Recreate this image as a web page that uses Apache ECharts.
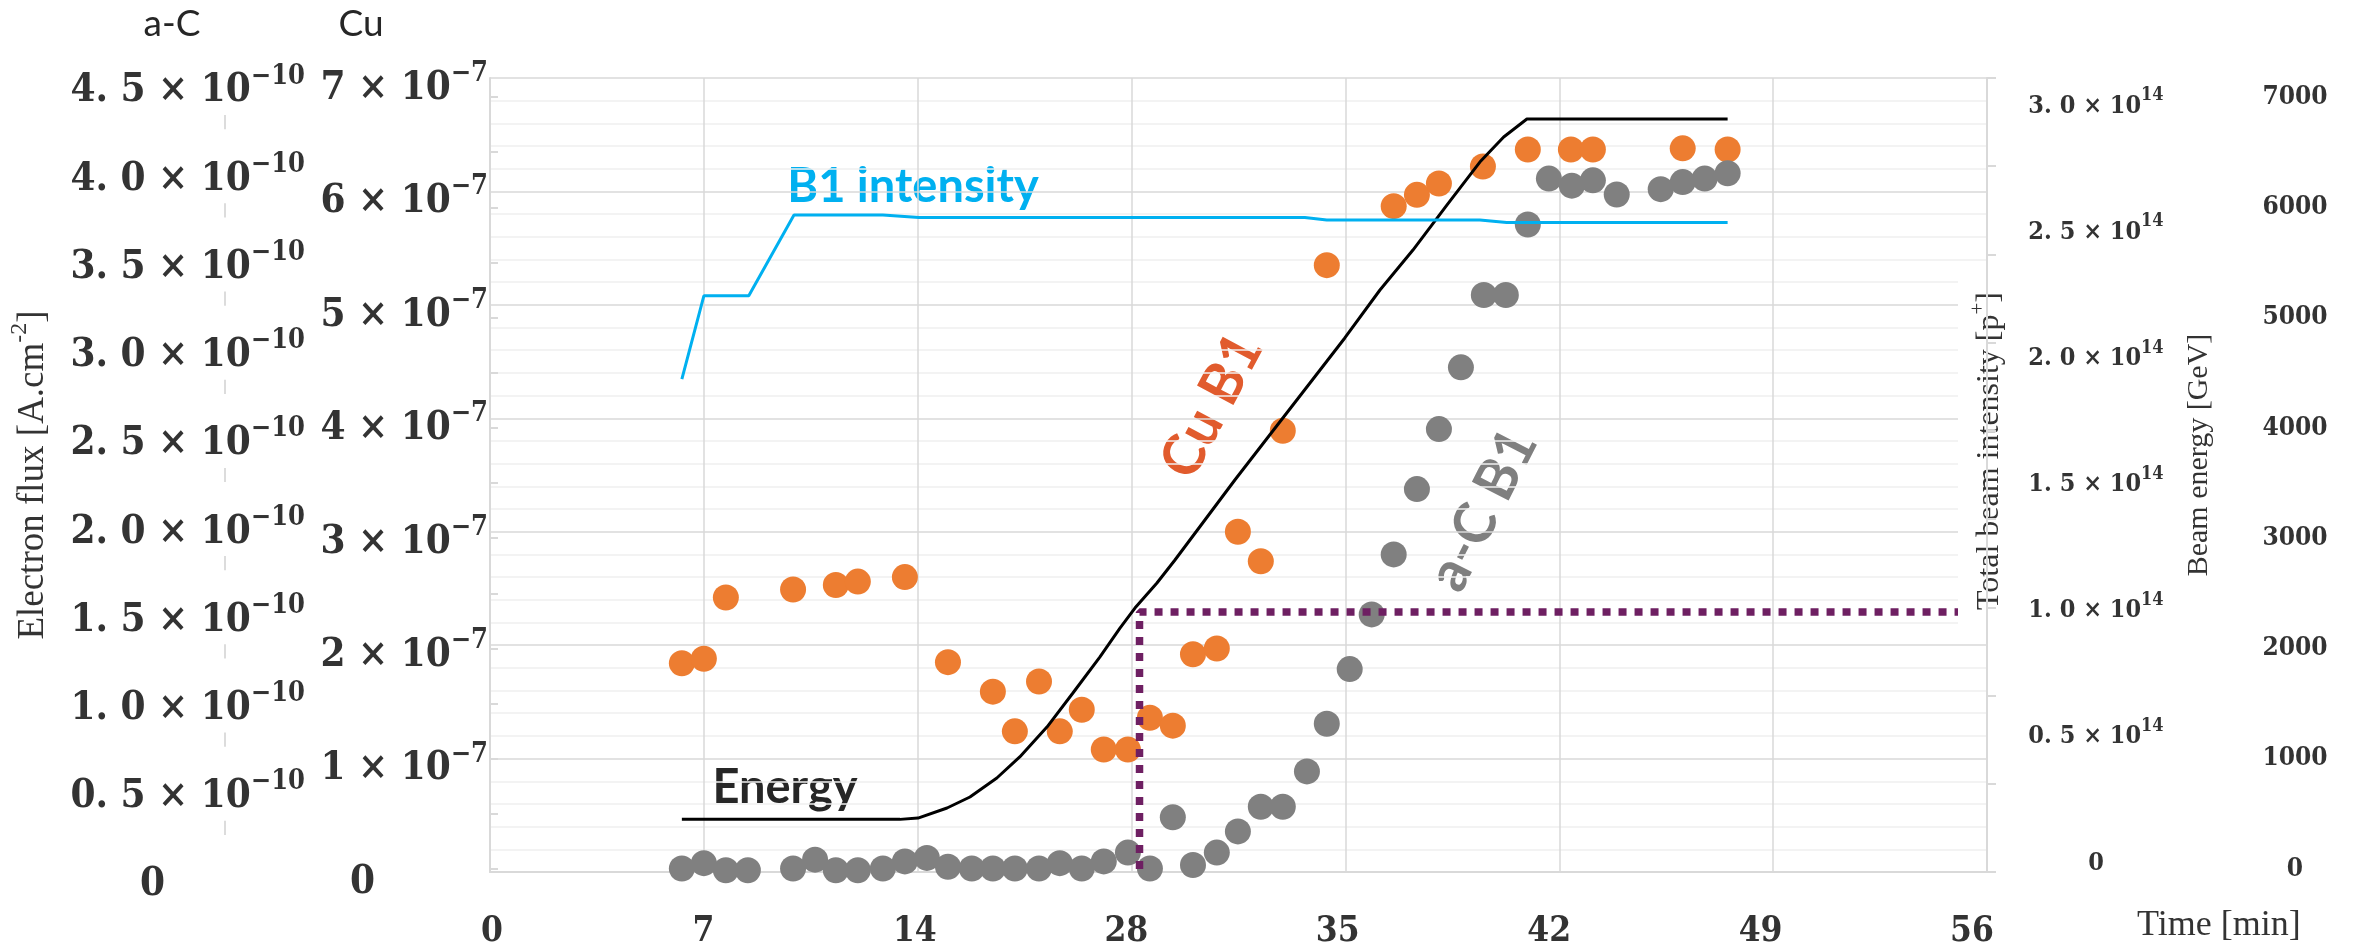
<!DOCTYPE html>
<html>
<head>
<meta charset="utf-8">
<title>Electron flux, beam intensity and energy vs time</title>
<script src="https://cdn.jsdelivr.net/npm/echarts@6.0.0/dist/echarts.min.js"></script>
<style>
  html, body { margin: 0; padding: 0; background: #ffffff; }
  #chart { width: 2358px; height: 949px; }
</style>
</head>
<body>
<div id="chart"></div>
<script>
// ---------------- tick labels ----------------
const xTickLabels = ['0', '7', '14', '28', '35', '42', '49', '56'];
const cuTickMantissas = ['0', '1', '2', '3', '4', '5', '6', '7'];
const cuTickExponent = '−7';
const acTickMantissas = ['0', '0. 5', '1. 0', '1. 5', '2. 0', '2. 5', '3. 0', '3. 5', '4. 0', '4. 5'];
const acTickExponent = '−10';
const intTickMantissas = ['0', '0. 5', '1. 0', '1. 5', '2. 0', '2. 5', '3. 0'];
const intTickExponent = '14';

// ---------------- series values ----------------
// Cu B1 electron flux (units of 1e-7 A.cm^-2)
const cuTime = [6.28, 7.00, 7.72, 9.92, 11.32, 12.04, 13.58, 14.99, 16.46, 17.18, 17.97, 18.65, 19.37, 20.09, 20.88, 21.60, 22.35, 23.01, 23.79, 24.48, 25.23, 25.95, 27.39, 29.58, 30.34, 31.06, 32.50, 33.97, 35.38, 36.10, 39.04, 40.51];
const cuFlux = [1.84, 1.88, 2.42, 2.49, 2.53, 2.56, 2.60, 1.85, 1.59, 1.24, 1.68, 1.24, 1.43, 1.08, 1.08, 1.36, 1.29, 1.92, 1.97, 3.00, 2.74, 3.89, 5.35, 5.87, 5.97, 6.07, 6.22, 6.37, 6.37, 6.37, 6.38, 6.37];

// a-C B1 electron flux (units of 1e-10 A.cm^-2)
const acTime = [6.28, 7.00, 7.72, 8.44, 9.92, 10.64, 11.32, 12.04, 12.86, 13.58,
                14.30, 14.99, 15.77, 16.46, 17.18, 17.97, 18.65, 19.37, 20.09, 20.88,
                21.60, 22.35, 23.01, 23.79, 24.48, 25.23, 25.95, 26.74, 27.39, 28.14,
                28.86, 29.58, 30.34, 31.06, 31.78, 32.53, 33.25, 33.97, 34.66, 35.41,
                36.10, 36.88, 38.32, 39.04, 39.76, 40.51];
const acFlux = [0.02, 0.05, 0.01, 0.01, 0.02, 0.07, 0.01, 0.01, 0.02, 0.06,
                0.08, 0.03, 0.02, 0.02, 0.02, 0.02, 0.05, 0.02, 0.06, 0.11,
                0.02, 0.31, 0.04, 0.11, 0.23, 0.37, 0.37, 0.57, 0.84, 1.15,
                1.46, 1.80, 2.17, 2.51, 2.86, 3.27, 3.27, 3.67, 3.93, 3.89,
                3.92, 3.84, 3.87, 3.91, 3.93, 3.96];

// Beam energy (GeV)
const energyTime = [6.28, 13.42, 14.01, 14.96, 15.71, 16.59, 17.34, 18.23, 19.08, 19.96, 20.62, 21.11, 21.83, 22.42, 24.38, 27.98, 29.13, 30.21, 31.32, 32.40, 33.18, 33.94, 40.51];
const energyGeV = [450, 450, 462, 553, 653, 825, 1016, 1287, 1596, 1922, 2185, 2366, 2593, 2802, 3527, 4815, 5250, 5612, 6020, 6410, 6637, 6800, 6800];

// B1 total beam intensity (units of 1e14 p+)
const intTime = [6.28, 7.00, 8.47, 9.95, 12.86, 14.04, 26.67, 27.39, 32.40, 33.28, 40.51];
const intValue = [1.91, 2.24, 2.24, 2.56, 2.56, 2.55, 2.55, 2.54, 2.54, 2.53, 2.53];

// Dotted marker (time, energy GeV)
const markerTime = [21.26, 21.26, 49];
const markerEnergy = [0, 2330, 2330];

// ---------------- helpers ----------------
const zip = (a, b) => a.map((v, i) => [v, b[i]]);
const SERIF_B = '"DejaVu Serif Condensed", "DejaVu Serif", serif';
const SERIF = '"Liberation Serif", "DejaVu Serif", serif';
const SANS = 'Lato, "Noto Sans", sans-serif';
const TXT = '#333333';
const AXIS_GRAY = '#D9D9D9';

function sciRich(base, sup, hLine, zeroPadRight) {
  return {
    h: { fontSize: 1, lineHeight: hLine },
    b: { fontFamily: SERIF_B, fontWeight: 'bold', fontSize: base, lineHeight: base, verticalAlign: 'bottom', color: TXT },
    z: { fontFamily: SERIF_B, fontWeight: 'bold', fontSize: base, lineHeight: base, verticalAlign: 'bottom', color: TXT, padding: [0, zeroPadRight, 0, 0] },
    s: { fontFamily: SERIF_B, fontWeight: 'bold', fontSize: sup, lineHeight: sup, verticalAlign: 'top', color: TXT }
  };
}
function sciFormatter(mantissas, exponent, step) {
  return function (v) {
    const i = Math.round(v / step);
    const m = mantissas[i];
    if (m === undefined) return '';
    if (m === '0') return '{h|\u200b}{z|0}';
    return '{h|\u200b}{b|' + m + ' × 10}{s|' + exponent + '}';
  };
}

const L = 490, R = 2358 - 1987;
const chart = echarts.init(document.getElementById('chart'), null, { renderer: 'canvas' });

const option = {
  animation: false,
  backgroundColor: '#ffffff',
  grid: [
    { left: L, right: R, top: 78, bottom: 77, containLabel: false, outerBoundsMode: 'none' },   // main
    { left: L, right: R, top: 97, bottom: 80, containLabel: false, outerBoundsMode: 'none' },   // energy
    { left: L, right: R, top: 104, bottom: 88, containLabel: false, outerBoundsMode: 'none' },  // intensity labels
    { left: 492, right: 386, top: 78, bottom: 77, containLabel: false, outerBoundsMode: 'none' } // time labels
  ],
  xAxis: [
    { gridIndex: 0, type: 'value', min: 0, max: 49, interval: 7,
      axisLine: { show: true, onZero: false, lineStyle: { color: AXIS_GRAY, width: 2 } },
      axisTick: { show: false }, axisLabel: { show: false },
      splitLine: { show: true, lineStyle: { color: AXIS_GRAY, width: 1.5 } } },
    { gridIndex: 1, type: 'value', min: 0, max: 49, show: false },
    { gridIndex: 2, type: 'value', min: 0, max: 49, show: false },
    { gridIndex: 3, type: 'category', data: xTickLabels, boundaryGap: false,
      axisLine: { show: false }, axisTick: { show: false }, splitLine: { show: false },
      axisLabel: { show: true, interval: 0, hideOverlap: false, margin: 42, fontFamily: SERIF_B, fontWeight: 'bold', fontSize: 35, lineHeight: 35, color: TXT },
      name: 'Time [min]', nameLocation: 'end', nameGap: 165, nameMoveOverlap: false,
      nameTextStyle: { fontFamily: SERIF, fontSize: 36, lineHeight: 36, color: TXT, align: 'left', verticalAlign: 'top', padding: [36, 0, 0, 0] } }
  ],
  yAxis: [
    // 0: Cu flux (left, at plot edge)
    { gridIndex: 0, type: 'value', position: 'left', min: 0, max: 7, interval: 1,
      axisLine: { show: true, lineStyle: { color: AXIS_GRAY, width: 2 } },
      axisTick: { show: false },
      splitLine: { show: true, lineStyle: { color: AXIS_GRAY, width: 1.5 } },
      minorTick: { show: false, splitNumber: 5 },
      minorSplitLine: { show: true, lineStyle: { color: '#F0F0F0', width: 1.5 } },
      axisLabel: { margin: 2, padding: [13, 0, 0, 0], formatter: sciFormatter(cuTickMantissas, cuTickExponent, 1),
        rich: sciRich(40, 27, 48, 113) } },
    // 1: a-C flux (left, offset)
    { gridIndex: 0, type: 'value', position: 'left', offset: 265, min: 0, max: 4.5, interval: 0.5,
      axisLine: { show: true, lineStyle: { color: '#D0D0D0', width: 1.5 } },
      axisTick: { show: false }, splitLine: { show: false },
      axisLabel: { margin: -80, padding: [22, 0, 4, 0], backgroundColor: '#ffffff',
        formatter: sciFormatter(acTickMantissas, acTickExponent, 0.5), rich: sciRich(40, 27, 48, 140) },
      name: '{n|Electron flux [A.cm}{p|-2}{n|]}', nameLocation: 'middle', nameGap: 195, nameRotate: 90, nameMoveOverlap: false,
      nameTextStyle: { align: 'center', verticalAlign: 'middle',
        rich: { n: { fontFamily: SERIF, fontSize: 37, lineHeight: 44, verticalAlign: 'bottom', color: TXT },
                p: { fontFamily: SERIF, fontSize: 24, lineHeight: 24, verticalAlign: 'top', color: TXT } } } },
    // 2: intensity ticks (right edge of plot)
    { gridIndex: 0, type: 'value', position: 'right', min: 0, max: 9, interval: 1, z: 10,
      axisLine: { show: true, lineStyle: { color: AXIS_GRAY, width: 2 } },
      axisTick: { show: true, inside: false, length: 9, lineStyle: { color: AXIS_GRAY, width: 2 } },
      axisLabel: { show: false }, splitLine: { show: false },
      name: '{n|Total beam intensity [p}{p|+}{n|]}', nameLocation: 'end', nameGap: -373, nameRotate: 90, nameMoveOverlap: false,
      nameTextStyle: { align: 'center', verticalAlign: 'middle', backgroundColor: '#ffffff', padding: [10, 20, 10, 20],
        rich: { n: { fontFamily: SERIF, fontSize: 32, lineHeight: 38, verticalAlign: 'bottom', color: TXT },
                p: { fontFamily: SERIF, fontSize: 21, lineHeight: 21, verticalAlign: 'top', color: TXT } } } },
    // 3: beam energy (own grid)
    { gridIndex: 1, type: 'value', position: 'right', offset: 239, min: 0, max: 7000, interval: 500,
      axisLine: { show: true, lineStyle: { color: AXIS_GRAY, width: 2 } },
      axisTick: { show: true, inside: false, length: 8, lineStyle: { color: AXIS_GRAY, width: 2 } },
      splitLine: { show: false },
      axisLabel: { align: 'center', margin: 69, fontFamily: SERIF_B, fontWeight: 'bold', fontSize: 26, color: TXT,
        formatter: v => (v % 1000 === 0 ? String(v) : '') },
      name: 'Beam energy [GeV]', nameLocation: 'middle', nameGap: -27, nameRotate: 90, nameMoveOverlap: false,
      nameTextStyle: { align: 'center', verticalAlign: 'middle', fontFamily: SERIF, fontSize: 30, color: TXT, padding: [0, 0, 0, 56] } },
    // 4: total beam intensity labels (own grid)
    { gridIndex: 2, type: 'value', position: 'right', min: 0, max: 3, interval: 0.5,
      axisLine: { show: false }, axisTick: { show: false }, splitLine: { show: false },
      axisLabel: { align: 'center', margin: 109, padding: [0, 0, 3, 0],
        formatter: sciFormatter(intTickMantissas, intTickExponent, 0.5), rich: sciRich(25, 18, 32, 0) } },
    // 5: hidden y for time-label grid
    { gridIndex: 3, type: 'value', min: 0, max: 1, show: false }
  ],
  graphic: [
    { type: 'text', x: 172, y: 24, style: { text: 'a-C', fontFamily: SANS, fontSize: 37, fill: '#262626', align: 'center', verticalAlign: 'middle' } },
    { type: 'text', x: 361, y: 24, style: { text: 'Cu', fontFamily: SANS, fontSize: 37, fill: '#262626', align: 'center', verticalAlign: 'middle' } },
    { type: 'text', x: 913, y: 187, style: { text: 'B1 intensity', fontFamily: SANS, fontWeight: 'bold', fontSize: 47, fill: '#00B0F0', align: 'center', verticalAlign: 'middle' } },
    { type: 'text', x: 785, y: 788, style: { text: 'Energy', fontFamily: SANS, fontWeight: 'bold', fontSize: 47, fill: '#262626', align: 'center', verticalAlign: 'middle' } },
    { type: 'text', x: 1212, y: 406, rotation: 62 * Math.PI / 180, style: { text: 'Cu B1', fontFamily: SANS, fontWeight: 'bold', fontSize: 57, fill: '#E15B2D', align: 'center', verticalAlign: 'middle' } },
    { type: 'text', x: 1483, y: 510, rotation: 63 * Math.PI / 180, style: { text: 'a-C B1', fontFamily: SANS, fontWeight: 'bold', fontSize: 57, fill: '#7F7F7F', align: 'center', verticalAlign: 'middle' } }
  ],
  series: [
    { type: 'scatter', name: 'Cu B1', xAxisIndex: 0, yAxisIndex: 0, data: zip(cuTime, cuFlux),
      symbol: 'circle', symbolSize: 26, itemStyle: { color: '#ED7D31', opacity: 1 }, z: 3 },
    { type: 'scatter', name: 'a-C B1', xAxisIndex: 0, yAxisIndex: 1, data: zip(acTime, acFlux),
      symbol: 'circle', symbolSize: 26, itemStyle: { color: '#808080', opacity: 1 }, z: 3 },
    { type: 'line', name: 'Energy', xAxisIndex: 1, yAxisIndex: 3, data: zip(energyTime, energyGeV),
      symbol: 'none', smooth: false, lineStyle: { color: '#000000', width: 3 }, z: 4 },
    { type: 'line', name: 'B1 intensity', xAxisIndex: 2, yAxisIndex: 4, data: zip(intTime, intValue),
      symbol: 'none', smooth: false, lineStyle: { color: '#00B0F0', width: 3 }, z: 4 },
    { type: 'line', name: 'marker', xAxisIndex: 1, yAxisIndex: 3, data: zip(markerTime, markerEnergy),
      symbol: 'none', lineStyle: { color: '#6E1F62', width: 7.5, type: [8, 8], cap: 'butt' }, z: 5 }
  ]
};
chart.setOption(option);
</script>
</body>
</html>
